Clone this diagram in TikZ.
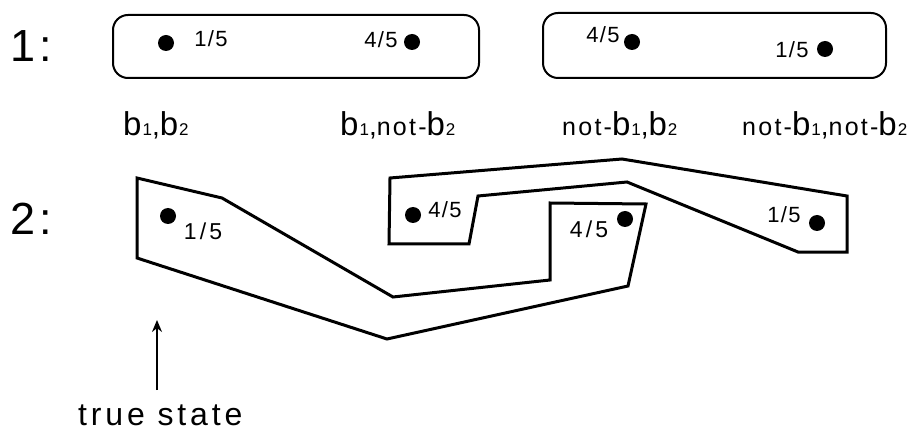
\documentclass[tikz,border=0pt]{standalone}
\usepackage{fontspec}
\setmainfont{Liberation Sans}
\usetikzlibrary{arrows.meta}
\newcommand\vb[1]{{\fontsize{33}{34}\selectfont b}\hspace{1pt}{\fontsize{17}{17}\selectfont #1}}
\newcommand\nt{{\fontsize{25}{25}\selectfont not-}}
\newcommand\cm{{\fontsize{28}{28}\selectfont ,}}
\tikzset{
  rowlab/.style={anchor=base west,inner sep=0pt,font=\fontsize{45}{46}\selectfont\addfontfeature{LetterSpace=10}},
  prob/.style={anchor=base,inner sep=0pt,font=\fontsize{22}{24}\selectfont\addfontfeature{LetterSpace=6}},
  probw/.style={anchor=base,inner sep=0pt,font=\fontsize{23}{24}\selectfont\addfontfeature{LetterSpace=14}},
  statelab/.style={anchor=base west,inner sep=0pt,font=\addfontfeature{LetterSpace=9}},
  dot/.style={circle,fill=black,inner sep=0pt,minimum size=16pt},
  cell/.style={draw,line width=2pt,rounded corners=15pt},
  part/.style={draw,line width=3pt,line join=miter},
  arr/.style={line width=1.5pt,-{Stealth[length=12pt,width=10pt]}}
}
\begin{document}
\begin{tikzpicture}[x=1pt,y=-1pt]
\path[use as bounding box] (0,0) rectangle (920,430);
% row labels
\node[rowlab] (r1) at (10,62) {1:};
\node[rowlab] (r2) at (10,235) {2:};
% row 1 cells
\draw[cell] (113,15) rectangle (479,78);
\draw[cell] (543,13) rectangle (886,78);
\node[dot] (d11) at (166,43) {};
\node[dot] (d12) at (412,42) {};
\node[dot] (d13) at (632,42) {};
\node[dot] (d14) at (825,49) {};
\node[prob] (p11) at (211,47) {1/5};
\node[prob] (p12) at (381,48) {4/5};
\node[prob] (p13) at (603,43) {4/5};
\node[prob] (p14) at (792,58) {1/5};
% state labels
\node[statelab] (s1) at (123,136) {\vb{1}\cm\vb{2}};
\node[statelab] (s2) at (340,136) {\vb{1}\cm\nt\vb{2}};
\node[statelab] (s3) at (562,136) {\nt\vb{1}\cm\vb{2}};
\node[statelab] (s4) at (742,136) {\nt\vb{1}\cm\nt\vb{2}};
% row 2 partition
\draw[part] (137,178) -- (222,198) -- (393,297) -- (550,280) -- (550,203)
  -- (646,204) -- (628,286) -- (387,339) -- (137,258) -- cycle;
\draw[part] (390,178) -- (622,159) -- (847,196) -- (847,252) -- (798,252)
  -- (627,182) -- (478,196) -- (469,244) -- (389,244) -- cycle;
\node[dot] (d21) at (168,216) {};
\node[dot] (d22) at (413,215) {};
\node[dot] (d23) at (625,219) {};
\node[dot] (d24) at (817,223) {};
\node[probw] (p21) at (203,240) {1/5};
\node[prob] (p22) at (445,218) {4/5};
\node[probw] (p23) at (589,238) {4/5};
\node[prob] (p24) at (784,223) {1/5};
% true state
\node[anchor=base west,inner sep=0pt,font=\fontsize{32}{34}\selectfont\addfontfeature{LetterSpace=12}] (ts) at (78,425) {true state};
\coordinate (tip) at (157,320);
\coordinate (tail) at (157,390);
\draw[arr] (tail) -- (tip);
\end{tikzpicture}
\end{document}
